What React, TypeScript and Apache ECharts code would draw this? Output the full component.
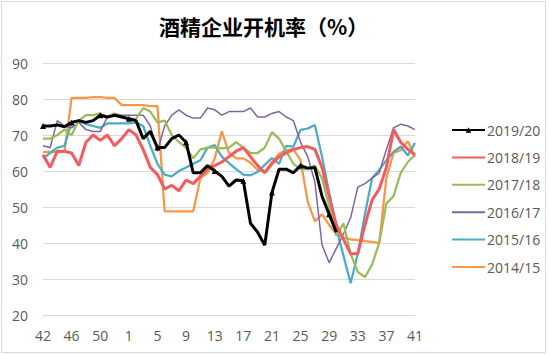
import React, { useEffect, useRef } from "react";
import * as echarts from "echarts";

const weeks = [
  "42", "43", "44", "45", "46", "47", "48", "49", "50", "51", "52", "53",
  "1", "2", "3", "4", "5", "6", "7", "8", "9", "10", "11", "12", "13", "14",
  "15", "16", "17", "18", "19", "20", "21", "22", "23", "24", "25", "26",
  "27", "28", "29", "30", "31", "32", "33", "34", "35", "36", "37", "38",
  "39", "40", "41",
];

const s2019: (number | null)[] = [
  72.5, 72.5, 72.8, 72.3, 73.5, 74, 73.5, 74, 75.5, 75, 75.5, 75,
  74.5, 74, 69, 71, 66.5, 66.5, 69, 70, 68, 59.5, 59.5, 61.5, 60, 58.5,
  55.8, 57.5, 57.3, 45.5, 43, 39.4, 54, 60.5, 60.5, 59.5, 61.5, 60.8,
  61, 53, 48, 43, null, null, null, null, null, null, null, null,
  null, null, null,
];

const s2018 = [
  64.5, 61, 65.5, 65.5, 65, 61.5, 68, 70, 68.5, 70, 67, 69,
  71.5, 70, 66, 61, 59, 55, 56, 54.5, 57.5, 56.5, 58.5, 60.5, 61.5, 62.5,
  64, 65.5, 66.5, 64, 61.5, 59.5, 62, 64, 65, 66, 66.5, 66.8,
  66, 61, 53, 45, 41, 37, 37, 45, 52, 55, 61, 71.5,
  68, 66, 64.5,
];

const s2017 = [
  69, 69, 70, 71.5, 70, 74, 75.5, 75.5, 76, 75, 76, 75,
  74.5, 74.5, 77.5, 76.5, 73.5, 74, 70, 68, 66.5, 63.5, 66, 66.5, 66.5, 66.3,
  66.5, 68, 66.5, 65, 65, 66.5, 70.8, 69, 65.5, 62, 60.5, 60.5,
  61.5, 58, 50, 42, 45.5, 37, 32, 30.5, 34, 40, 51, 53,
  59.5, 62.5, 64.5,
];

const s2016 = [
  67, 66.5, 74, 72.5, 72, 73.5, 71.5, 71, 71, 75, 76, 75.5,
  75.5, 75.5, 75.5, 72.5, 65.5, 72.5, 75.5, 77, 75.5, 74.7, 74.7, 77.5, 77, 75.5,
  76.5, 76.5, 76.5, 77.5, 75, 75, 76, 76.5, 75, 74, 68, 64,
  57, 39.5, 34.5, 38.5, 42.5, 47, 55.5, 56.5, 58, 59.5, 66, 72,
  73, 72.5, 71.5,
];

const s2015 = [
  63.5, 65, 66.5, 67, 73.5, 74, 73, 72.5, 72, 73.2, 73.2, 73.2,
  73.2, 73.5, 72.5, 67, 62, 59, 58.5, 60, 61, 62, 63, 66.5, 67.2, 64,
  62.2, 60.5, 59, 58.8, 59.7, 61.7, 63.6, 62, 67, 66.8, 71.4, 71.8,
  72.8, 64, 54, 44, 36.5, 28.8, 37, 48, 58, 60.3, 63, 65.3,
  66.8, 64.3, 67.8,
];

const s2014 = [
  65.3, 65.3, 65.3, 65.3, 80.3, 80.3, 80.3, 80.5, 80.5, 80.3, 80.3, 78.3,
  78.3, 78.3, 78.3, 78, 78, 48.8, 48.8, 48.8, 48.8, 48.8, 58, 59.5, 63.5, 71,
  65, 63.5, 63.5, 62.3, 60.3, 59.7, 62.5, 64.8, 65.8, 66, 63, 51.5,
  46, 48, 45, 42.5, 41.5, 41, 40.8, 40.5, 40.3, 40, 58, 65,
  65.8, 68.3, 64,
];

const yTicks = [20, 30, 40, 50, 60, 70, 80, 90];
const titleText = "酒精企业开机率（%）";
const names = ["2019/20", "2018/19", "2017/18", "2016/17", "2015/16", "2014/15"];

export default function App() {
  const ref = useRef<HTMLDivElement>(null);
  useEffect(() => {
    if (!ref.current) return;
    const chart = echarts.init(ref.current, null, { renderer: "svg" });
    const font = "'Open Sans', 'Liberation Sans', sans-serif";
    const mk = (name: string, data: (number | null)[], color: string, width: number) => ({
      name,
      type: "line",
      data,
      symbol: "none",
      lineStyle: { color, width },
      itemStyle: { color },
    });
    chart.setOption({
      animation: false,
      backgroundColor: "#ffffff",
      title: {
        text: titleText,
        left: 154,
        top: 10,
        textStyle: {
          fontFamily: "'Noto Sans CJK SC', sans-serif",
          fontSize: 21,
          fontWeight: "bold",
          color: "#000000",
        },
      },
      graphic: [
        {
          type: "rect",
          shape: { x: 1.5, y: 1.5, width: 544, height: 351 },
          style: { fill: "none", stroke: "#d9d9d9", lineWidth: 1 },
          silent: true,
        },
      ],
      legend: {
        orient: "vertical",
        left: 446,
        top: 118,
        itemWidth: 33,
        itemHeight: 7,
        itemGap: 13.4,
        data: names.map((n, i) =>
          i === 0 ? { name: n } : { name: n, itemStyle: { opacity: 0 } }
        ),
        textStyle: { fontFamily: font, fontSize: 14, color: "#595959", padding: [0, 0, 0, -3] },
      },
      grid: { left: 43, right: 135, top: 63, bottom: 39 },
      xAxis: {
        type: "category",
        data: weeks,
        boundaryGap: false,
        axisLine: { lineStyle: { color: "#d9d9d9", width: 1 } },
        axisTick: { show: false },
        axisLabel: {
          interval: 3,
          margin: 13,
          fontFamily: font,
          fontSize: 14,
          color: "#595959",
        },
      },
      yAxis: {
        type: "value",
        min: yTicks[0],
        max: yTicks[yTicks.length - 1],
        interval: 10,
        axisLine: { show: false },
        axisTick: { show: false },
        splitLine: { lineStyle: { color: "#d9d9d9", width: 1 } },
        axisLabel: {
          margin: 15,
          fontFamily: font,
          fontSize: 14,
          color: "#595959",
        },
      },
      series: [
        mk(names[5], s2014, "#f79646", 2.25),
        mk(names[4], s2015, "#4bacc6", 2.25),
        mk(names[3], s2016, "#8064a2", 1.5),
        mk(names[2], s2017, "#9bbb59", 2.25),
        mk(names[1], s2018, "#f45b5f", 3),
        {
          name: names[0],
          type: "line",
          data: s2019,
          symbol: "triangle",
          symbolSize: 6,
          showSymbol: true,
          lineStyle: { color: "#000000", width: 3 },
          itemStyle: { color: "#000000" },
        },
      ],
    });
    return () => chart.dispose();
  }, []);
  return (
    <div
      ref={ref}
      style={{ position: "fixed", left: 0, top: 0, width: 550, height: 354 }}
    />
  );
}
